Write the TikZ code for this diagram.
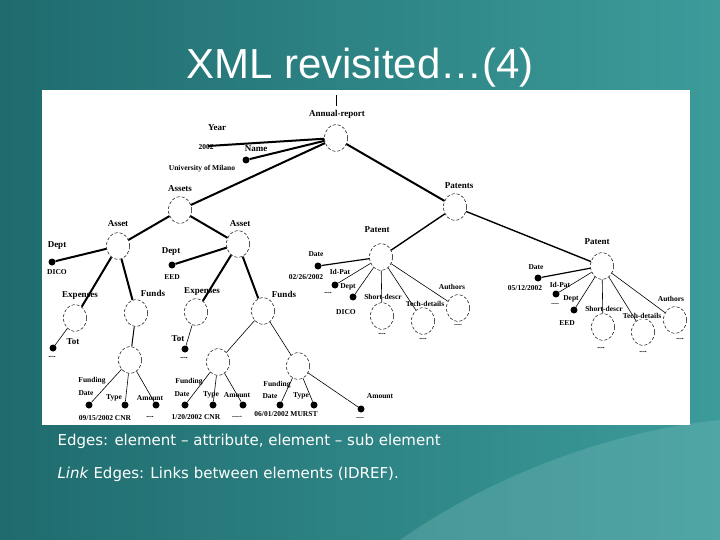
\documentclass[tikz,border=0pt]{standalone}
\usepackage{fontspec}
\setmainfont{Liberation Serif}
\newfontfamily\slidefont{DejaVu Sans}
\newfontfamily\titlefont{Liberation Sans}
\usetikzlibrary{shapes.geometric}
\definecolor{bgA}{HTML}{1F6B6E}
\definecolor{bgB}{HTML}{3C9C9A}
\begin{document}
\begin{tikzpicture}[x=1pt,y=-1pt,
  el/.style={ellipse,draw,densely dashed,line width=0.5pt,minimum width=23pt,minimum height=27pt,inner sep=0pt},
  dt/.style={circle,fill=black,minimum size=7pt,inner sep=0pt},
  lb/.style={font=\bfseries\fontsize{9}{10}\selectfont,inner sep=0pt},
  sm/.style={font=\bfseries\fontsize{7.5}{8}\selectfont,inner sep=0pt},
  th/.style={line width=2pt},
  tn/.style={line width=0.6pt}]
\shade[left color=bgA,right color=bgB] (0,0) rectangle (720,540);
\useasboundingbox (0,0) rectangle (720,540);
\fill[bgB!70!white,opacity=0.35] (400,540) .. controls (500,470) and (620,430) .. (720,420) -- (720,540) -- cycle;
\node[font=\titlefont\fontsize{42}{46}\selectfont,text=white] (title) at (360,68) {XML revisited\dots(4)};
\fill[white] (42,90) rectangle (690,425);
% text
\node[anchor=west,text=white,font=\slidefont\fontsize{15}{18}\selectfont] (t1) at (54,441) {Edges: element – attribute, element – sub element};
\node[anchor=west,text=white,font=\slidefont\fontsize{15}{18}\selectfont] (t2) at (54,474) {\textit{Link} Edges: Links between elements (IDREF).};
% nodes
\node[el] (ar) at (336,138) {};
\coordinate (top) at (336,95);
\draw[tn] (top) -- (336,106);
\node[lb] at (337,114) {Annual-report};
\node[lb] at (217,128) {Year};
\coordinate (yr) at (208,146);
\node[sm] at (206,147) {2002};
\node[lb] at (256,149) {Name};
\node[dt] (nm) at (246,160) {};
\node[sm] at (202,169) {University of Milano};
\node[el] (as) at (180,210) {}; \node[lb] at (180,189) {Assets};
\node[el] (pts) at (455,207) {}; \node[lb] at (459,186) {Patents};
\node[el] (a1) at (118,246) {}; \node[lb] at (118,224) {Asset};
\node[el] (a2) at (238,244) {}; \node[lb] at (240,224) {Asset};
\node[dt] (d1) at (52,262) {}; \node[lb] at (57,246) {Dept}; \node[sm] at (57,272) {DICO};
\node[dt] (d2) at (172,265) {}; \node[lb] at (171,252) {Dept}; \node[sm] at (172,277) {EED};
\node[el] (e1) at (75,318) {}; \node[lb,fill=white] at (80,296) {Expenses};
\node[el] (f1) at (136,313) {}; \node[lb] at (153,293) {Funds};
\node[el] (e2) at (196,312) {}; \node[lb,fill=white] at (202,292) {Expenses};
\node[el] (f2) at (263,311) {}; \node[lb] at (284,294) {Funds};
\node[dt] (t1d) at (53,348) {}; \node[lb] at (73,342) {Tot}; \node[sm] at (52,357) {....};
\node[dt] (t2d) at (185,349) {}; \node[lb] at (178,339) {Tot}; \node[sm] at (184,358) {....};
% funding 1
\node[el] (g1) at (130,360) {};
\node[dt] (g1a) at (89,405) {}; \node[dt] (g1b) at (125,405) {}; \node[dt] (g1c) at (156,405) {};
\node[sm] at (92,381) {Funding}; \node[sm] at (86,393) {Date}; \node[sm] at (114,398) {Type}; \node[sm] at (150,398) {Amount};
\node[sm] at (105,418) {09/15/2002 CNR}; \node[sm] at (150,417) {....};
% funding 2
\node[el] (g2) at (218,362) {};
\node[dt] (g2a) at (185,405) {}; \node[dt] (g2b) at (213,405) {}; \node[dt] (g2c) at (243,405) {};
\node[sm] at (189,382) {Funding}; \node[sm] at (182,394) {Date}; \node[sm] at (211,395) {Type}; \node[sm] at (237,395) {Amount};
\node[sm] at (196,417) {1/20/2002 CNR}; \node[sm] at (237,417) {----};
% funding 3
\node[el] (g3) at (298,366) {};
\node[dt] (g3a) at (280,405) {}; \node[dt] (g3b) at (314,405) {}; \node[dt] (g3c) at (361,409) {};
\node[sm] at (277,385) {Funding}; \node[sm] at (270,396) {Date}; \node[sm] at (301,396) {Type}; \node[sm] at (380,396) {Amount};
\node[sm] at (286,414) {06/01/2002 MURST}; \node[sm] at (360,418) {---};
% patent 1
\node[el] (p1) at (381,257) {}; \node[lb] at (377,230) {Patent};
\node[dt] (p1a) at (318,266) {}; \node[sm] at (316,254) {Date}; \node[sm] at (306,277) {02/26/2002};
\node[dt] (p1b) at (335,285) {}; \node[sm] at (340,272) {Id-Pat}; \node[sm] at (328,293) {....};
\node[dt] (p1c) at (353,297) {}; \node[sm] at (348,287) {Dept}; \node[sm] at (346,312) {DICO};
\node[el] (p1d) at (382,316) {}; \node[sm,fill=white] at (383,297) {Short-descr}; \node[sm] at (382,334) {....};
\node[el] (p1e) at (423,321) {}; \node[sm,fill=white] at (425,304) {Tech-details}; \node[sm] at (423,339) {....};
\node[el] (p1f) at (458,308) {}; \node[sm] at (452,287) {Authors}; \node[sm] at (458,325) {---};
% patent 2
\node[el] (p2) at (602,266) {}; \node[lb] at (597,242) {Patent};
\node[dt] (p2a) at (538,278) {}; \node[sm] at (536,267) {Date}; \node[sm] at (525,288) {05/12/2002};
\node[dt] (p2b) at (556,294) {}; \node[sm] at (560,285) {Id-Pat}; \node[sm] at (555,304) {---};
\node[dt] (p2c) at (574,310) {}; \node[sm] at (571,299) {Dept}; \node[sm] at (567,323) {EED};
\node[el] (p2d) at (603,327) {}; \node[sm,fill=white] at (604,309) {Short-descr}; \node[sm] at (601,348) {....};
\node[el] (p2e) at (643,332) {}; \node[sm,fill=white] at (642,316) {Tech-details}; \node[sm] at (643,352) {....};
\node[el] (p2f) at (675,320) {}; \node[sm] at (671,299) {Authors}; \node[sm] at (680,339) {....};
% edges
\draw[th] (ar) -- (yr);
\draw[th] (ar) -- (nm);
\draw[th] (ar) -- (as);
\draw[th] (ar) -- (pts);
\draw[th] (as) -- (a1); \draw[th] (as) -- (a2);
\draw[th] (a1) -- (d1); \draw[th] (a1) -- (e1); \draw[th] (a1) -- (f1);
\draw[th] (a2) -- (d2); \draw[th] (a2) -- (e2); \draw[th] (a2) -- (f2);
\draw[tn] (e1) -- (t1d); \draw[tn] (e2) -- (t2d);
\draw[tn,line width=1pt] (f1) -- (g1); \draw[tn] (f2) -- (g2); \draw[tn] (f2) -- (g3);
\foreach \a in {g1a,g1b,g1c} \draw[tn] (g1) -- (\a);
\foreach \a in {g2a,g2b,g2c} \draw[tn] (g2) -- (\a);
\foreach \a in {g3a,g3b,g3c} \draw[tn] (g3) -- (\a);
\draw[th,line width=1.4pt] (pts) -- (p1); \draw[th,line width=1.4pt] (pts) -- (p2);
\draw[tn,line width=1.2pt] (p1) -- (p1a);
\foreach \a in {p1b,p1c,p1d,p1e,p1f} \draw[tn] (p1) -- (\a);
\draw[tn,line width=1.2pt] (p2) -- (p2a);
\foreach \a in {p2b,p2c,p2d,p2e,p2f} \draw[tn] (p2) -- (\a);
\end{tikzpicture}
\end{document}
